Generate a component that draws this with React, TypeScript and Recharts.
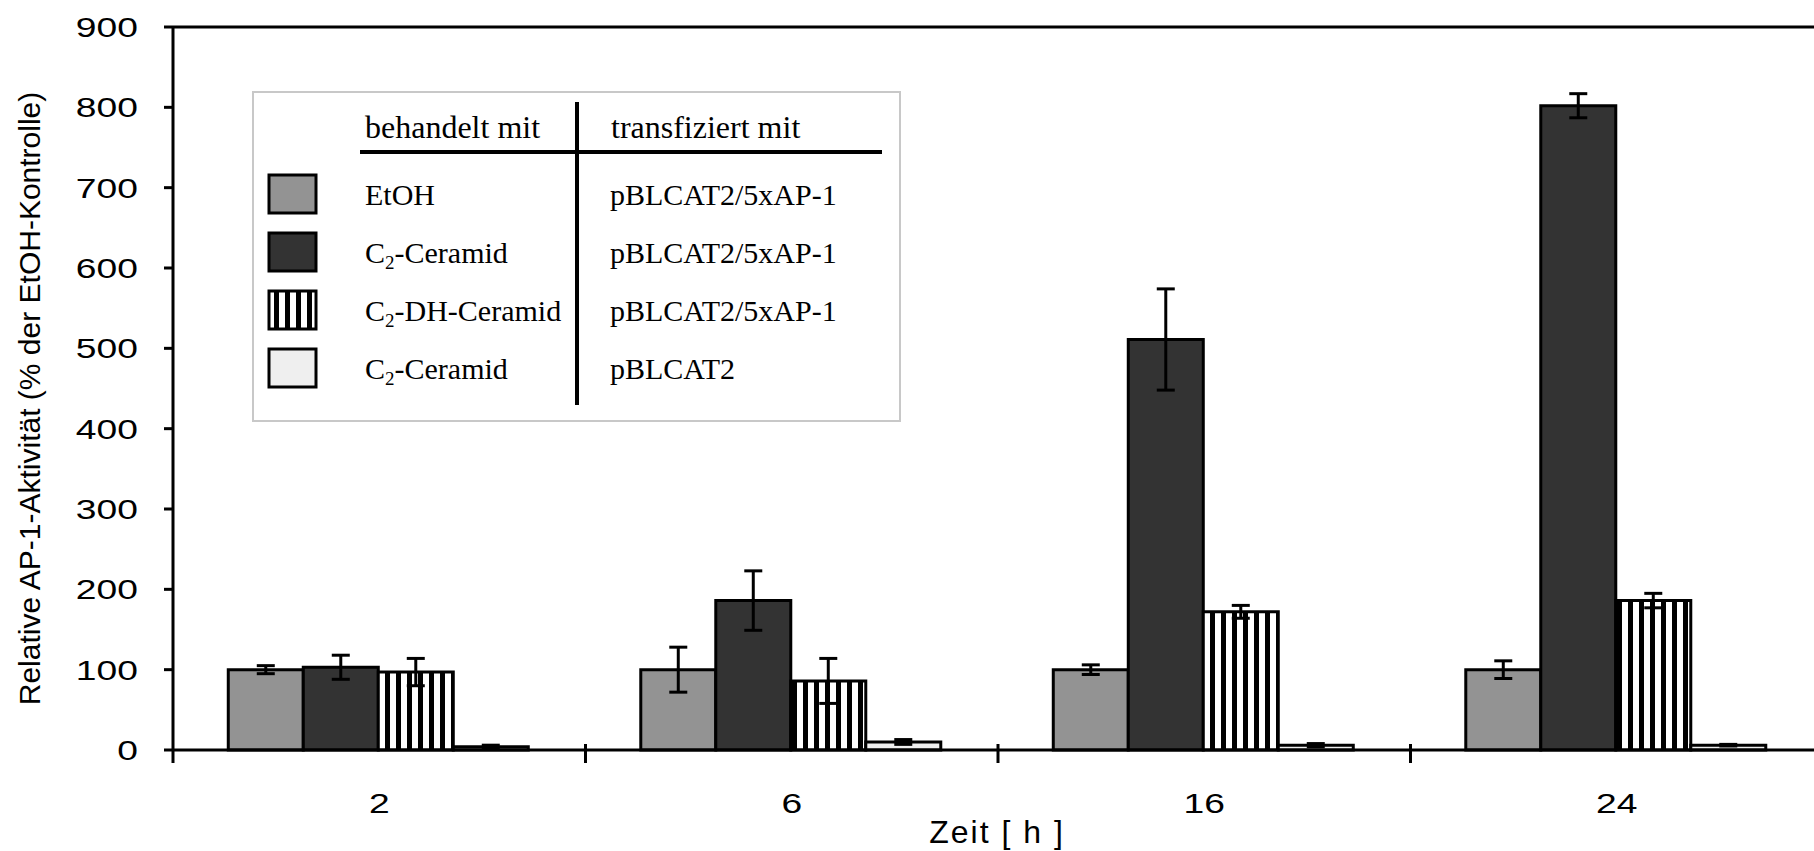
import React from 'react';
import { BarChart, Bar, XAxis, YAxis, ErrorBar, ReferenceLine, Legend, Label } from 'recharts';

const categories = ['2', '6', '16', '24'];
const etohValues = [100, 100, 100, 100];
const etohErrors = [5, 28, 6, 11];
const c2Values = [103, 186, 511, 802];
const c2Errors = [15, 37, 63, 15];
const dhValues = [97, 86, 172, 186];
const dhErrors = [17, 28, 8, 9];
const ctrlValues = [4, 10, 6, 6];
const ctrlErrors = [2, 3, 2, 1];
const yTicks = [0, 100, 200, 300, 400, 500, 600, 700, 800, 900];

const treatments = ['EtOH', 'C2-Ceramid', 'C2-DH-Ceramid', 'C2-Ceramid'];
const plasmids = ['pBLCAT2/5xAP-1', 'pBLCAT2/5xAP-1', 'pBLCAT2/5xAP-1', 'pBLCAT2'];
const seriesKeys = ['etoh', 'c2', 'dh', 'ctrl'];
const seriesColors = ['#939393', '#333333', 'url(#vstripes)', '#efefef'];

const data = categories.map((c, i) => ({
  zeit: c,
  etoh: etohValues[i],
  etohErr: etohErrors[i],
  c2: c2Values[i],
  c2Err: c2Errors[i],
  dh: dhValues[i],
  dhErr: dhErrors[i],
  ctrl: ctrlValues[i],
  ctrlErr: ctrlErrors[i],
}));

const SANS = '"Liberation Sans", Arial, Helvetica, sans-serif';
const SERIF = '"Liberation Serif", "Times New Roman", serif';
const BAND_HALF = 206;
const STRETCH = 1.33;

const Treatment = ({ label, x, y }: { label: string; x: number; y: number }) => {
  if (label.startsWith('C2')) {
    return (
      <text x={x} y={y} fontFamily={SERIF} fontSize={30} fill="#000">
        <tspan>C</tspan>
        <tspan fontSize={19} dy={6}>2</tspan>
        <tspan dy={-6}>{label.slice(2)}</tspan>
      </text>
    );
  }
  return (
    <text x={x} y={y} fontFamily={SERIF} fontSize={30} fill="#000">
      {label}
    </text>
  );
};

const renderLegend = (props: any) => {
  const payload: any[] = props && Array.isArray(props.payload) ? props.payload : [];
  return (
    <svg width={649} height={331} style={{ display: 'block' }}>
      <rect x={1} y={1} width={647} height={329} fill="#fff" stroke="#c8c8c8" strokeWidth={2} />
      <text x={113} y={47} fontFamily={SERIF} fontSize={32} fill="#000">behandelt mit</text>
      <text x={359} y={47} fontFamily={SERIF} fontSize={32} fill="#000">transfiziert mit</text>
      <line x1={108} x2={630} y1={61} y2={61} stroke="#000" strokeWidth={4} />
      <line x1={325} x2={325} y1={11} y2={314} stroke="#000" strokeWidth={4} />
      {seriesKeys.map((k, i) => {
        const cy = 103 + i * 58;
        const entry = payload.find((p: any) => p && p.dataKey === k);
        const color = entry && entry.color ? entry.color : seriesColors[i];
        return (
          <g key={k}>
            <rect x={17} y={cy - 19} width={47} height={38} fill={color} stroke="#000" strokeWidth={3} />
            <Treatment label={treatments[i]} x={113} y={cy + 11} />
            <text x={358} y={cy + 11} fontFamily={SERIF} fontSize={30} fill="#000">{plasmids[i]}</text>
          </g>
        );
      })}
    </svg>
  );
};

const XTick = (props: any) => {
  const { x, y, payload, index } = props;
  const half = payload && payload.offset > 0 ? payload.offset : BAND_HALF;
  return (
    <g>
      <text
        transform={`translate(${x},${y + 43}) scale(${STRETCH},1)`}
        dy="0.71em"
        textAnchor="middle"
        fontSize={28}
        fontFamily={SANS}
        fill="#000"
      >
        {payload.value}
      </text>
      <line x1={x + half} x2={x + half} y1={y - 6} y2={y + 13} stroke="#000" strokeWidth={3} />
      {index === 0 && <line x1={x - half} x2={x - half} y1={y} y2={y + 13} stroke="#000" strokeWidth={3} />}
    </g>
  );
};

const YTick = (props: any) => {
  const { y, payload } = props;
  return (
    <text
      transform={`translate(138,${y}) scale(${STRETCH},1)`}
      dy="0.355em"
      textAnchor="end"
      fontSize={28}
      fontFamily={SANS}
      fill="#000"
    >
      {payload.value}
    </text>
  );
};

const YLabel = (props: any) => {
  const vb = props.viewBox || { x: 0, y: 27, width: 173, height: 723 };
  const cx = vb.x + 40;
  const cy = vb.y + vb.height / 2 + 10;
  return (
    <text x={cx} y={cy} transform={`rotate(-90 ${cx} ${cy})`} textAnchor="middle" fontSize={30} fontFamily={SANS} fill="#000">
      Relative AP-1-Aktivität (% der EtOH-Kontrolle)
    </text>
  );
};

const XLabel = (props: any) => {
  const vb = props.viewBox || { x: 173, y: 750, width: 1650, height: 101 };
  const cx = vb.x + vb.width / 2 - 1;
  const cy = vb.y + 93;
  return (
    <text x={cx} y={cy} textAnchor="middle" fontSize={32} fontFamily={SANS} letterSpacing={2} fill="#000">
      Zeit [ h ]
    </text>
  );
};

export default function App() {
  return (
    <div style={{ position: 'fixed', left: 0, top: 0, width: 1814, height: 851, overflow: 'hidden', background: '#fff' }}>
      <BarChart
        width={1830}
        height={851}
        data={data}
        margin={{ top: 27, right: 7, bottom: 0, left: 0 }}
        barCategoryGap="13.4%"
        barGap={0}
      >
        <defs>
          <pattern id="vstripes" patternUnits="userSpaceOnUse" width={11} height={11}>
            <rect width={11} height={11} fill="#fff" />
            <rect width={5} height={11} fill="#000" />
          </pattern>
        </defs>
        <XAxis
          dataKey="zeit"
          height={101}
          tickSize={0}
          tickMargin={0}
          tickLine={false}
          axisLine={{ stroke: '#000', strokeWidth: 3 }}
          tick={<XTick />}
          interval={0}
        >
          <Label content={<XLabel />} />
        </XAxis>
        <YAxis
          width={173}
          domain={[0, 900]}
          ticks={yTicks}
          interval={0}
          tickSize={9}
          tickMargin={19}
          axisLine={{ stroke: '#000', strokeWidth: 3 }}
          tickLine={{ stroke: '#000', strokeWidth: 3 }}
          tick={<YTick />}
        >
          <Label content={<YLabel />} />
        </YAxis>
        <ReferenceLine y={900} stroke="#000" strokeWidth={3} />
        <Legend
          layout="horizontal"
          verticalAlign="middle"
          align="center"
          wrapperStyle={{ left: 252, top: 91, width: 649, height: 331 }}
          content={renderLegend}
        />
        <Bar dataKey="etoh" name="EtOH" fill={seriesColors[0]} stroke="#000" strokeWidth={3} isAnimationActive={false}>
          <ErrorBar dataKey="etohErr" width={9} stroke="#000" strokeWidth={3} />
        </Bar>
        <Bar dataKey="c2" name="C2-Ceramid" fill={seriesColors[1]} stroke="#000" strokeWidth={3} isAnimationActive={false}>
          <ErrorBar dataKey="c2Err" width={9} stroke="#000" strokeWidth={3} />
        </Bar>
        <Bar dataKey="dh" name="C2-DH-Ceramid" fill={seriesColors[2]} stroke="#000" strokeWidth={3} isAnimationActive={false}>
          <ErrorBar dataKey="dhErr" width={9} stroke="#000" strokeWidth={3} />
        </Bar>
        <Bar dataKey="ctrl" name="C2-Ceramid pBLCAT2" fill={seriesColors[3]} stroke="#000" strokeWidth={3} isAnimationActive={false}>
          <ErrorBar dataKey="ctrlErr" width={9} stroke="#000" strokeWidth={3} />
        </Bar>
      </BarChart>
    </div>
  );
}
